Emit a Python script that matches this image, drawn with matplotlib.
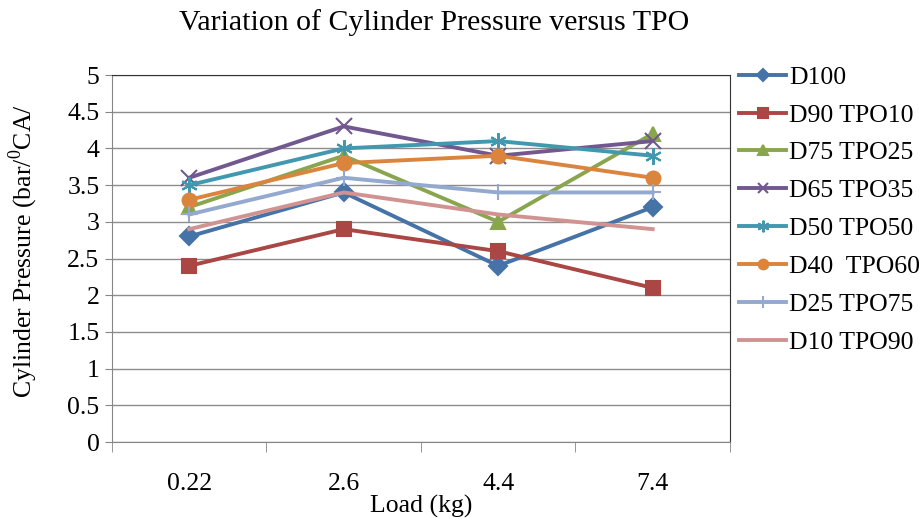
import matplotlib.pyplot as plt
from matplotlib.ticker import FixedLocator, NullFormatter

plt.rcParams['font.family'] = ['Liberation Serif', 'DejaVu Serif']
plt.rcParams['mathtext.fontset'] = 'custom'
plt.rcParams['mathtext.rm'] = 'Liberation Serif'

# load categories (kg)
loads = ["0.22", "2.6", "4.4", "7.4"]

# cylinder pressure for each blend
d100 = [2.8, 3.4, 2.4, 3.2]
d90_tpo10 = [2.4, 2.9, 2.6, 2.1]
d75_tpo25 = [3.2, 3.9, 3.0, 4.2]
d65_tpo35 = [3.6, 4.3, 3.9, 4.1]
d50_tpo50 = [3.5, 4.0, 4.1, 3.9]
d40_tpo60 = [3.3, 3.8, 3.9, 3.6]
d25_tpo75 = [3.1, 3.6, 3.4, 3.4]
d10_tpo90 = [2.9, 3.4, 3.1, 2.9]

series = [
    ("D100", d100, "#4572A7", "D", 9),
    ("D90 TPO10", d90_tpo10, "#AA4643", "s", 10),
    ("D75 TPO25", d75_tpo25, "#89A54E", "^", 10),
    ("D65 TPO35", d65_tpo35, "#71588F", "x", 11),
    ("D50 TPO50", d50_tpo50, "#4198AF", (6, 2, 0), 12),
    ("D40  TPO60", d40_tpo60, "#DB843D", "o", 10),
    ("D25 TPO75", d25_tpo75, "#93A9CF", "+", 12),
    ("D10 TPO90", d10_tpo90, "#D19392", "None", 0),
]

fig = plt.figure(figsize=(9.2, 5.18), dpi=100)
ax = fig.add_axes([0.1217, 0.1467, 0.6717, 0.7085])

x = [i + 0.5 for i in range(len(loads))]
handles = []
for name, vals, col, mk, ms in series:
    h, = ax.plot(x, vals, color=col, lw=2.8, marker=mk, markersize=ms,
                 markeredgewidth=1.5, markerfacecolor=col, markeredgecolor=col,
                 label=name, zorder=3)
    handles.append(h)

ax.set_xlim(0, 4)
ax.set_ylim(0, 5)
ax.set_yticks([i * 0.5 for i in range(11)])
ax.set_yticklabels(["0", "0.5", "1", "1.5", "2", "2.5", "3", "3.5", "4", "4.5", "5"])
ax.xaxis.set_major_locator(FixedLocator(x))
ax.set_xticklabels(loads)
ax.xaxis.set_minor_locator(FixedLocator([0, 1, 2, 3, 4]))
ax.xaxis.set_minor_formatter(NullFormatter())
ax.tick_params(axis='x', which='major', length=0, pad=22, labelsize=18.5)
ax.tick_params(axis='x', which='minor', length=7, color='#868686')
ax.tick_params(axis='y', length=5, color='#868686', labelsize=18.5, pad=4)

ax.grid(axis='y', color='#8c8c8c', lw=1)
ax.set_axisbelow(True)
ax.spines['left'].set_color('#868686')
ax.spines['bottom'].set_color('#868686')
ax.spines['top'].set_color('#333333')
ax.spines['right'].set_color('#333333')

ax.set_xlabel("Load (kg)", fontsize=18.5)
ax.xaxis.set_label_coords(0.5, -0.143)
ax.set_ylabel("Cylinder Pressure (bar/$^{0}$CA/", fontsize=18.5)
ax.yaxis.set_label_coords(-0.117, 0.52)

fig.text(0.472, 0.956, "Variation of Cylinder Pressure versus TPO",
         ha='center', va='center', fontsize=21.5)

leg = fig.legend(handles=handles, loc='upper left', bbox_to_anchor=(0.792, 0.893),
                 frameon=False, fontsize=18.5, handlelength=1.85, handletextpad=0.1,
                 labelspacing=0.58, markerscale=0.7, borderaxespad=0)

plt.savefig("out.png", dpi=100)
